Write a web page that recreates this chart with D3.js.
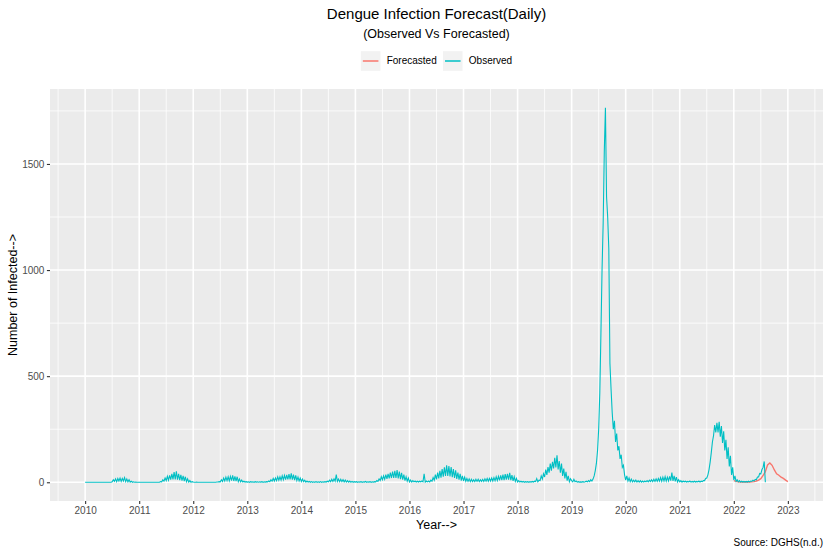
<!DOCTYPE html>
<html>
<head>
<meta charset="utf-8">
<script src="https://cdn.jsdelivr.net/npm/d3@7"></script>
<style>
body { margin: 0; background: #fff; }
text { font-family: "Liberation Sans", Arial, Helvetica, sans-serif; }
</style>
</head>
<body>
<div></div>
<script>
var width = 830;
var height = 554;

// observed daily cases, read off the picture as low/high pairs of the daily band,
// one pair per half month (index i of a year -> year + i / samplesPerYear)
var years = [2010, 2011, 2012, 2013, 2014, 2015, 2016, 2017, 2018, 2019, 2020, 2021, 2022];
var samplesPerYear = [48, 48, 48, 48, 48, 48, 48, 48, 48, 48, 48, 48, 48];
var obs2010 = [0,0, 0,0, 0,0, 0,0, 0,0, 0,0, 0,0, 0,0, 0,0, 0,0, 0,0, 0,0,
               2,12, 4,16, 3,18, 6,20, 4,18, 6,22, 3,16, 2,12, 1,5, 0,2, 0,1, 0,0];
var obs2011 = [0,0, 0,0, 0,0, 0,0, 0,0, 0,0, 0,0, 0,0, 0,0, 0,3, 2,12, 5,20,
               8,28, 10,32, 12,40, 14,48, 14,52, 12,40, 10,35, 8,30, 5,26, 3,16, 1,8, 0,3];
var obs2012 = [1,0, 0,1, 0,0, 0,0, 0,0, 0,0, 0,0, 0,0, 0,0, 0,0, 0,1, 1,3,
               2,12, 4,20, 6,24, 8,26, 7,28, 8,33, 6,28, 5,26, 3,16, 2,10, 1,5, 1,3];
var obs2013 = [1,2, 0,3, 1,2, 0,3, 1,2, 0,2, 1,3, 0,2, 1,3, 2,6, 3,12, 5,18,
               6,20, 8,26, 10,26, 10,30, 12,32, 12,35, 14,38, 14,42, 12,36, 10,32, 8,24, 6,20];
var obs2014 = [4,15, 3,10, 1,6, 1,4, 0,3, 0,2, 0,3, 0,2, 0,3, 0,2, 1,3, 1,5,
               2,10, 3,14, 4,16, 5,36, 4,15, 3,14, 3,12, 2,10, 1,8, 1,6, 0,4, 0,3];
var obs2015 = [1,3, 0,2, 1,3, 0,2, 1,4, 0,2, 1,3, 0,2, 1,3, 2,8, 4,16, 8,26,
               12,30, 14,36, 16,40, 18,46, 20,50, 20,54, 20,57, 18,50, 15,44, 12,36, 8,26, 5,20];
var obs2016 = [2,10, 1,8, 2,6, 1,5, 1,5, 2,6, 2,40, 1,6, 2,6, 2,10, 5,22, 10,36,
               14,46, 18,54, 22,62, 26,70, 30,80, 30,76, 28,72, 24,62, 20,56, 16,46, 12,40, 8,30];
var obs2017 = [6,24, 5,18, 4,16, 3,14, 3,12, 3,14, 4,14, 3,12, 4,14, 4,16, 5,18, 5,18,
               6,20, 6,22, 7,26, 8,28, 9,32, 10,36, 10,38, 12,40, 12,44, 10,34, 7,26, 4,18];
var obs2018 = [2,8, 1,5, 1,4, 0,3, 1,3, 0,3, 1,4, 1,5, 3,17, 2,10, 8,30, 15,40,
               25,60, 35,72, 45,88, 55,96, 65,115, 70,127, 60,100, 45,88, 30,65, 18,49, 8,30, 3,17];
var obs2019 = [8,2, 14,3, 6,1, 3,1, 2,1, 3,1, 2,5, 2,8, 3,12, 6,15, 30,55, 90,150,
               250,420, 700,1000, 1222,1560, 1765,1345, 1250,1100, 560,440,
               330,250, 290,190, 230,150, 170,110, 130,70, 80,35];
var obs2020 = [10,30, 6,20, 3,15, 2,10, 2,10, 1,8, 1,8, 1,6, 1,6, 2,8, 2,10, 3,12,
               3,14, 4,16, 4,18, 5,22, 5,24, 6,26, 5,24, 6,28, 8,46, 6,30, 4,24, 2,12];
var obs2021 = [2,8, 1,6, 2,5, 1,4, 2,6, 1,4, 1,5, 1,4, 2,6, 1,5, 3,8, 8,18,
               20,35, 60,95, 140,190, 220,270, 235,280, 235,285, 215,265, 185,240, 150,200, 110,165, 75,125, 35,70];
var obs2022 = [10,30, 4,12, 2,8, 1,5, 1,4, 1,4, 1,5, 2,6, 4,10, 6,14, 12,25, 25,42,
               40,60, 70,98, 0];
var observedByYear = [obs2010, obs2011, obs2012, obs2013, obs2014, obs2015, obs2016,
                      obs2017, obs2018, obs2019, obs2020, obs2021, obs2022];

// forecast for 2022, twice a month
var forecast2022 = [8,4,2,1,1,1,1,1,2,3,6,10,17,32,50,82,91,80,58,40,33,24,18,10,3];

var xTicks = [2010, 2011, 2012, 2013, 2014, 2015, 2016, 2017, 2018, 2019, 2020, 2021, 2022, 2023];
var yTicks = [0, 500, 1000, 1500];
var seriesNames = ['Forecasted', 'Observed'];
var seriesColors = ['#F8766D', '#00BFC4'];

var observed = [];
observedByYear.forEach(function (vals, k) {
    vals.forEach(function (v, i) { observed.push({ t: years[k] + i / samplesPerYear[k], v: v }); });
});
var forecasted = forecast2022.map(function (v, i) { return { t: 2022 + i / 24, v: v }; });

var margin = { left: 50, right: 7, top: 89, bottom: 53 };
var pw = width - margin.left - margin.right;
var ph = height - margin.top - margin.bottom;

var svg = d3.select('div')
    .append('svg').attr('width', width).attr('height', height);

// ggplot style 5% expansion
var all = observed.concat(forecasted);
var tMin = d3.min(all, function (d) { return d.t; }), tMax = d3.max(all, function (d) { return d.t; });
var vMin = d3.min(all, function (d) { return d.v; }), vMax = d3.max(all, function (d) { return d.v; });
var tPad = (tMax - tMin) * 0.05, vPad = (vMax - vMin) * 0.05;

var x = d3.scaleLinear().domain([tMin - tPad, tMax + tPad]).range([0, pw]);
var y = d3.scaleLinear().domain([vMin - vPad, vMax + vPad]).range([ph, 0]);

var g = svg.append('g').attr('transform', 'translate(' + margin.left + ',' + margin.top + ')');

g.append('rect').attr('width', pw).attr('height', ph).attr('fill', '#EBEBEB');

var xMinor = xTicks.map(function (t) { return t - 0.5; }).concat([xTicks[xTicks.length - 1] + 0.5]);
var yMinor = yTicks.map(function (t) { return t + 250; });

g.selectAll('.xminor').data(xMinor).enter().append('line')
    .attr('x1', x).attr('x2', x).attr('y1', 0).attr('y2', ph)
    .attr('stroke', '#fff').attr('stroke-width', 0.8);
g.selectAll('.yminor').data(yMinor).enter().append('line')
    .attr('y1', y).attr('y2', y).attr('x1', 0).attr('x2', pw)
    .attr('stroke', '#fff').attr('stroke-width', 0.8);
g.selectAll('.xmajor').data(xTicks).enter().append('line')
    .attr('x1', x).attr('x2', x).attr('y1', 0).attr('y2', ph)
    .attr('stroke', '#fff').attr('stroke-width', 1.6);
g.selectAll('.ymajor').data(yTicks).enter().append('line')
    .attr('y1', y).attr('y2', y).attr('x1', 0).attr('x2', pw)
    .attr('stroke', '#fff').attr('stroke-width', 1.6);

var line = d3.line()
    .x(function (d) { return x(d.t); })
    .y(function (d) { return y(d.v); });

g.append('path').datum(forecasted)
    .attr('d', line).attr('fill', 'none')
    .attr('stroke', seriesColors[0]).attr('stroke-width', 1.4);
g.append('path').datum(observed)
    .attr('d', line).attr('fill', 'none')
    .attr('stroke', seriesColors[1]).attr('stroke-width', 1.1);

// axes
var xAxis = g.append('g').attr('transform', 'translate(0,' + ph + ')')
    .call(d3.axisBottom(x).tickValues(xTicks).tickFormat(d3.format('d')).tickSize(3.1).tickPadding(2.5));
var yAxis = g.append('g')
    .call(d3.axisLeft(y).tickValues(yTicks).tickFormat(d3.format('d')).tickSize(3.1).tickPadding(2.5));
[xAxis, yAxis].forEach(function (a) {
    a.select('.domain').remove();
    a.selectAll('line').attr('stroke', '#333333').attr('stroke-width', 1.1);
    a.selectAll('text').attr('fill', '#4D4D4D').style('font-size', '10px')
        .style('font-family', '"Liberation Sans", Arial, sans-serif');
});

var cx = margin.left + pw / 2;

svg.append('text').attr('x', cx).attr('y', 19).attr('text-anchor', 'middle')
    .style('font-size', '15px').attr('fill', '#000').text('Dengue Infection Forecast(Daily)');
svg.append('text').attr('x', cx).attr('y', 38).attr('text-anchor', 'middle')
    .style('font-size', '12.5px').attr('fill', '#000').text('(Observed Vs Forecasted)');

svg.append('text').attr('x', cx).attr('y', 528.5).attr('text-anchor', 'middle')
    .style('font-size', '12.5px').attr('fill', '#000').text('Year-->');
svg.append('text').attr('transform', 'translate(16.5,' + (margin.top + ph / 2) + ') rotate(-90)')
    .attr('text-anchor', 'middle')
    .style('font-size', '12.5px').attr('fill', '#000').text('Number of Infected-->');

svg.append('text').attr('x', margin.left + pw).attr('y', 546).attr('text-anchor', 'end')
    .style('font-size', '10px').attr('fill', '#000').text('Source: DGHS(n.d.)');

// legend
var key = 19.6, gap = 6.25;
var legend = svg.append('g');
var items = legend.selectAll('g').data(seriesNames).enter().append('g');
items.append('rect').attr('width', key).attr('height', key).attr('fill', '#F2F2F2');
items.append('line').attr('x1', 2).attr('x2', key - 2).attr('y1', key / 2).attr('y2', key / 2)
    .attr('stroke', function (d, i) { return seriesColors[i]; }).attr('stroke-width', 1.5);
items.append('text').attr('x', key + gap).attr('y', key / 2).attr('dy', '0.35em')
    .style('font-size', '10px').attr('fill', '#000').text(function (d) { return d; });
var pos = 0;
items.each(function () {
    var w = key + gap + d3.select(this).select('text').node().getComputedTextLength();
    d3.select(this).attr('transform', 'translate(' + pos + ',0)');
    pos += w + gap;
});
var legendWidth = pos - gap;
legend.attr('transform', 'translate(' + (cx - legendWidth / 2) + ',' + (61 - key / 2) + ')');
</script>
</body>
</html>
